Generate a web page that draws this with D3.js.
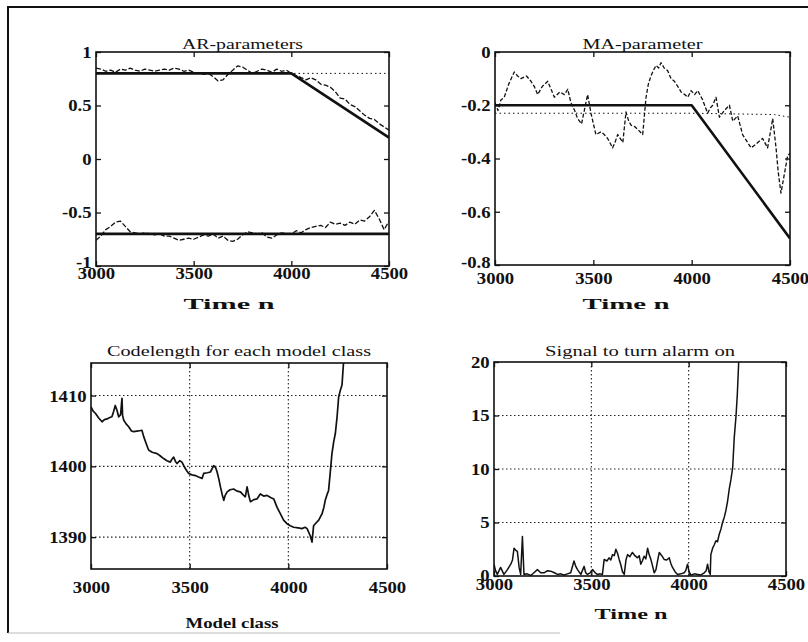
<!DOCTYPE html>
<html>
<head>
<meta charset="utf-8">
<script src="https://cdn.jsdelivr.net/npm/d3@7"></script>
<style>
  body { margin: 0; background: #fff; }
  svg { display: block; }
</style>
</head>
<body>
<div id="grafico"></div>
<script>
// eixo do tempo comum
const xDominio = [3000, 4500];
const xTicks = [3000, 3500, 4000, 4500];

// AR-parameters
const arTime = [
  3000,3025,3050,3075,3100,3125,3150,3175,3200,3225,
  3250,3275,3300,3325,3350,3375,3400,3425,3450,3475,
  3500,3525,3550,3575,3600,3625,3650,3675,3700,3725,
  3750,3775,3800,3825,3850,3875,3900,3925,3950,3975,
  4000,4025,4050,4075,4100,4125,4150,4175,4200,4225,
  4250,4275,4300,4325,4350,4375,4400,4425,4450,4475,
  4500];
const a1Est = [
  0.85,0.84,0.82,0.83,0.81,0.84,0.83,0.85,0.83,0.82,
  0.84,0.83,0.82,0.83,0.84,0.83,0.85,0.84,0.82,0.83,
  0.81,0.80,0.79,0.80,0.77,0.73,0.74,0.79,0.83,0.87,
  0.86,0.83,0.80,0.82,0.84,0.83,0.81,0.84,0.82,0.83,
  0.80,0.78,0.76,0.74,0.76,0.74,0.70,0.69,0.67,0.63,
  0.57,0.56,0.51,0.49,0.45,0.41,0.38,0.37,0.33,0.30,
  0.27];
const a2Est = [
  -0.76,-0.72,-0.66,-0.63,-0.59,-0.58,-0.63,-0.68,-0.69,-0.70,
  -0.69,-0.70,-0.71,-0.70,-0.72,-0.72,-0.74,-0.76,-0.75,-0.74,
  -0.75,-0.73,-0.71,-0.72,-0.70,-0.74,-0.72,-0.76,-0.77,-0.75,
  -0.71,-0.68,-0.69,-0.70,-0.69,-0.73,-0.74,-0.71,-0.69,-0.70,
  -0.70,-0.67,-0.69,-0.66,-0.64,-0.63,-0.62,-0.64,-0.59,-0.61,
  -0.60,-0.62,-0.59,-0.61,-0.57,-0.58,-0.54,-0.48,-0.56,-0.66,
  -0.58];
const arTrueTime = [3000, 4000, 4500];
const a1True = [0.8, 0.8, 0.2];
const a2True = [-0.7, -0.7, -0.7];
const a1Ref = [0.8, 0.8, 0.8];
const arYTicks = [-1, -0.5, 0, 0.5, 1];

// MA-parameter
const maTime = [
  3000,3015,3030,3047,3070,3098,3115,3132,3160,3183,
  3200,3217,3240,3268,3285,3302,3330,3353,3370,3386,
  3405,3420,3440,3454,3471,3488,3513,3539,3555,3573,
  3598,3610,3624,3650,3666,3680,3692,3710,3725,3751,
  3768,3780,3793,3805,3819,3832,3844,3860,3878,3895,
  3912,3930,3946,3965,3980,3997,4015,4031,4056,4081,
  4095,4107,4124,4141,4166,4192,4209,4234,4259,4276,
  4302,4320,4336,4361,4386,4403,4412,4429,4440,4454,
  4471,4488,4500];
const maEst = [
  -0.19,-0.22,-0.18,-0.17,-0.12,-0.075,-0.09,-0.10,-0.09,-0.11,
  -0.13,-0.16,-0.13,-0.11,-0.14,-0.17,-0.15,-0.16,-0.14,-0.19,
  -0.22,-0.25,-0.27,-0.22,-0.16,-0.23,-0.31,-0.30,-0.31,-0.325,
  -0.36,-0.34,-0.31,-0.34,-0.225,-0.26,-0.275,-0.28,-0.29,-0.31,
  -0.17,-0.12,-0.09,-0.07,-0.05,-0.06,-0.04,-0.06,-0.07,-0.10,
  -0.11,-0.13,-0.15,-0.16,-0.17,-0.145,-0.16,-0.145,-0.18,-0.23,
  -0.21,-0.20,-0.17,-0.245,-0.22,-0.20,-0.26,-0.24,-0.31,-0.33,
  -0.36,-0.35,-0.34,-0.325,-0.36,-0.29,-0.25,-0.36,-0.45,-0.53,
  -0.46,-0.39,-0.38];
const maTrueTime = [3000, 4000, 4500];
const maTrue = [-0.2, -0.2, -0.7];
const maRefTime = [3000, 4000, 4420, 4500];
const maRef = [-0.23, -0.23, -0.235, -0.245];
const maYTicks = [-0.8, -0.6, -0.4, -0.2, 0];

// Codelength
const codeTime = [
  3000,3011,3022,3040,3056,3068,3081,3095,3106,3115,
  3123,3132,3140,3150,3157,3160,3166,3178,3191,3205,
  3216,3240,3258,3267,3280,3292,3310,3335,3350,3368,
  3385,3402,3410,3419,3428,3436,3450,3461,3470,3478,
  3487,3495,3512,3529,3545,3563,3571,3590,3605,3622,
  3632,3639,3648,3656,3665,3673,3680,3690,3705,3723,
  3740,3757,3770,3782,3791,3800,3808,3825,3841,3858,
  3875,3892,3910,3926,3943,3960,3976,3993,4010,4027,
  4050,4069,4085,4095,4111,4120,4128,4140,4154,4165,
  4171,4180,4187,4196,4204,4212,4221,4230,4238,4247,
  4255,4264,4272,4280,4290];
const codeValue = [
  1408.4,1407.8,1407.5,1406.8,1406.3,1406.6,1406.7,1406.9,1407.0,1407.8,
  1408.6,1407.9,1407.0,1407.3,1409.6,1407.2,1406.5,1406.0,1405.6,1405.0,
  1404.9,1405.0,1405.1,1404.2,1403.2,1402.3,1402.0,1401.8,1401.5,1401.1,
  1400.8,1400.6,1401.0,1401.3,1400.7,1400.4,1400.8,1400.6,1400.1,1399.7,
  1399.3,1399.0,1398.8,1398.7,1398.5,1398.3,1399.0,1399.1,1399.2,1400.1,
  1399.8,1399.2,1398.2,1397.1,1396.0,1395.2,1395.9,1396.4,1396.7,1396.8,
  1396.5,1396.4,1396.0,1395.7,1397.1,1395.8,1395.0,1395.3,1395.4,1396.1,
  1395.8,1395.9,1395.6,1395.4,1394.2,1393.3,1392.4,1391.9,1391.6,1391.4,
  1391.3,1391.2,1391.4,1391.2,1390.2,1389.3,1391.6,1392.0,1392.4,1393.0,
  1393.3,1394.2,1395.2,1396.0,1396.6,1399.0,1401.8,1403.5,1404.6,1407.0,
  1409.8,1410.8,1411.5,1414.8,1418.0];
const codeYTicks = [1390, 1400, 1410];

// Signal to turn alarm on
const alarmTime = [
  3000,3008,3017,3034,3051,3069,3086,3095,3103,3112,
  3120,3129,3137,3146,3154,3170,3189,3205,3223,3240,
  3257,3275,3291,3310,3326,3343,3360,3377,3394,3411,
  3420,3429,3446,3463,3471,3480,3494,3506,3520,3531,
  3545,3557,3566,3580,3591,3600,3609,3618,3626,3635,
  3643,3652,3660,3669,3678,3686,3698,3711,3724,3737,
  3746,3754,3762,3771,3780,3789,3797,3806,3815,3823,
  3832,3840,3849,3862,3874,3887,3900,3908,3917,3930,
  3943,3960,3977,3985,3994,4002,4011,4030,4046,4063,
  4080,4090,4097,4104,4111,4114,4123,4131,4140,4148,
  4157,4166,4174,4183,4191,4200,4209,4217,4226,4234,
  4243,4250,4257,4268];
const alarmValue = [
  1.1,0.5,0.15,0.8,0.15,0.6,1.1,1.5,2.6,2.4,
  2.3,0.8,0.15,3.7,0.15,0.2,0.05,0.3,0.6,0.3,
  0.3,0.5,0.45,0.3,0.15,0.2,0.1,0.2,0.3,1.4,
  0.9,0.6,0.15,0.9,0.3,0.15,0.3,0.6,0.3,0.15,
  0.2,0.15,1.55,1.4,1.7,1.5,2.0,1.9,2.5,2.1,
  1.55,1.0,0.4,0.15,1.5,2.0,1.8,2.2,1.9,1.7,
  1.9,1.1,1.4,1.85,1.6,2.6,2.0,1.55,0.9,0.3,
  0.6,1.4,2.2,1.9,1.55,1.5,1.7,1.2,0.8,0.4,
  0.15,0.2,0.3,0.5,1.1,0.4,0.1,0.2,0.15,0.1,
  0.3,0.5,1.1,0.4,0.15,2.0,2.6,2.9,3.3,3.2,
  3.9,4.4,5.0,5.5,6.1,7.0,8.2,9.0,10.1,12.9,
  14.9,17.0,20.0,23.0];
const alarmYTicks = [0, 5, 10, 15, 20];

const largura = 808, altura = 642;
const fonte = '"Liberation Serif", "Times New Roman", Times, serif';

const svg = d3.select("#grafico").append("svg")
  .attr("width", largura)
  .attr("height", altura)
  .style("background", "#fff");

// moldura da figura escaneada
svg.append("line").attr("x1", 8).attr("x2", largura).attr("y1", 7).attr("y2", 7)
  .attr("stroke", "#111").attr("stroke-width", 2.2);
svg.append("line").attr("x1", 8).attr("x2", 8).attr("y1", 6).attr("y2", 633)
  .attr("stroke", "#111").attr("stroke-width", 2);
svg.append("line").attr("x1", 8).attr("x2", 560).attr("y1", 633).attr("y2", 633)
  .attr("stroke", "#bbb").attr("stroke-width", 1);

function desenharPainel(p) {
  const g = svg.append("g");
  const x = d3.scaleLinear().domain(xDominio).range([p.caixa.x0, p.caixa.x1]);
  const y = d3.scaleLinear().domain(p.yDominio).range([p.caixa.y1, p.caixa.y0]);

  const clipId = "clip-" + p.id;
  svg.append("clipPath").attr("id", clipId)
    .append("rect")
    .attr("x", p.caixa.x0).attr("y", p.caixa.y0)
    .attr("width", p.caixa.x1 - p.caixa.x0)
    .attr("height", p.caixa.y1 - p.caixa.y0);

  // grade pontilhada
  if (p.grade) {
    g.selectAll(".gx").data(xTicks.slice(1, -1)).enter().append("line")
      .attr("x1", d => x(d)).attr("x2", d => x(d))
      .attr("y1", p.caixa.y0).attr("y2", p.caixa.y1)
      .attr("stroke", "#222").attr("stroke-width", 1.1)
      .attr("stroke-dasharray", "1.5,2.5");
    g.selectAll(".gy").data(p.yTicks.filter(v => y(v) > p.caixa.y0 + 1 && y(v) < p.caixa.y1 - 1))
      .enter().append("line")
      .attr("x1", p.caixa.x0).attr("x2", p.caixa.x1)
      .attr("y1", d => y(d)).attr("y2", d => y(d))
      .attr("stroke", "#222").attr("stroke-width", 1.1)
      .attr("stroke-dasharray", "1.5,2.5");
  }

  // séries
  const area = g.append("g").attr("clip-path", `url(#${clipId})`);
  p.series.forEach(s => {
    const linha = d3.line()
      .x((d, i) => x(s.t[i]))
      .y(d => y(d));
    area.append("path")
      .datum(s.v)
      .attr("d", linha)
      .attr("fill", "none")
      .attr("stroke", "#111")
      .attr("stroke-width", s.largura)
      .attr("stroke-linejoin", "round")
      .attr("stroke-dasharray", s.traco || null);
  });

  // caixa
  g.append("rect")
    .attr("x", p.caixa.x0).attr("y", p.caixa.y0)
    .attr("width", p.caixa.x1 - p.caixa.x0)
    .attr("height", p.caixa.y1 - p.caixa.y0)
    .attr("fill", "none").attr("stroke", "#111").attr("stroke-width", 1.6);

  // eixos com ticks para dentro
  const estiloEixo = sel => {
    sel.select(".domain").remove();
    sel.selectAll(".tick line").attr("stroke", "#111").attr("stroke-width", 1.3);
    sel.selectAll("text")
      .attr("fill", "#111")
      .style("font-family", fonte)
      .style("font-size", "17px")
      .style("font-weight", "bold")
      .attr("transform", "scale(1.1,1)");
  };

  g.append("g").attr("transform", `translate(0,${p.caixa.y1})`)
    .call(d3.axisBottom(x).tickValues(xTicks).tickSizeInner(-5).tickSizeOuter(0)
      .tickPadding(p.padX).tickFormat(d => String(d)))
    .call(estiloEixo);
  g.append("g").attr("transform", `translate(0,${p.caixa.y0})`)
    .call(d3.axisTop(x).tickValues(xTicks).tickSizeInner(-5).tickSizeOuter(0).tickFormat(""))
    .call(estiloEixo);
  const eixoY = g.append("g").attr("transform", `translate(${p.caixa.x0},0)`)
    .call(d3.axisLeft(y).tickValues(p.yTicks).tickSizeInner(-5).tickSizeOuter(0)
      .tickPadding(4).tickFormat(d => String(d)))
    .call(estiloEixo);
  // rótulo mais baixo sobe um pouco, como no original
  eixoY.selectAll(".tick text")
    .filter(d => d === p.yDominio[0])
    .attr("y", -(p.elevarBase || 0));
  g.append("g").attr("transform", `translate(${p.caixa.x1},0)`)
    .call(d3.axisRight(y).tickValues(p.yTicks).tickSizeInner(-5).tickSizeOuter(0).tickFormat(""))
    .call(estiloEixo);

  // título e rótulo do eixo
  g.append("text")
    .attr("x", (p.caixa.x0 + p.caixa.x1) / 2)
    .attr("y", p.tituloY)
    .attr("text-anchor", "middle")
    .attr("textLength", p.tituloLargura)
    .attr("lengthAdjust", "spacingAndGlyphs")
    .style("font-family", fonte)
    .style("font-size", "14px")
    .attr("fill", "#111")
    .text(p.titulo);

  g.append("text")
    .attr("x", p.rotuloX)
    .attr("y", p.rotuloY)
    .attr("text-anchor", "middle")
    .attr("textLength", p.rotuloLargura)
    .attr("lengthAdjust", "spacingAndGlyphs")
    .style("font-family", fonte)
    .style("font-size", "15px")
    .style("font-weight", "bold")
    .attr("fill", "#111")
    .text(p.rotulo);
}

desenharPainel({
  id: "ar",
  caixa: { x0: 96, x1: 389, y0: 52, y1: 266 },
  yDominio: [-1, 1], yTicks: arYTicks, padX: 1, grade: false, elevarBase: 4,
  titulo: "AR-parameters", tituloY: 49, tituloLargura: 121,
  rotulo: "Time n", rotuloX: 229, rotuloY: 309, rotuloLargura: 91,
  series: [
    { t: arTrueTime, v: a1Ref, largura: 1, traco: "1.5,3" },
    { t: arTime, v: a1Est, largura: 1.3, traco: "5,2" },
    { t: arTime, v: a2Est, largura: 1.3, traco: "5,2" },
    { t: arTrueTime, v: a1True, largura: 2.6 },
    { t: arTrueTime, v: a2True, largura: 2.6 }
  ]
});

desenharPainel({
  id: "ma",
  caixa: { x0: 495, x1: 790, y0: 52, y1: 265 },
  yDominio: [-0.8, 0], yTicks: maYTicks, padX: 7, grade: false, elevarBase: 3,
  titulo: "MA-parameter", tituloY: 49, tituloLargura: 120,
  rotulo: "Time n", rotuloX: 626, rotuloY: 309, rotuloLargura: 87,
  series: [
    { t: maRefTime, v: maRef, largura: 1, traco: "1.5,3" },
    { t: maTime, v: maEst, largura: 1.3, traco: "4,2" },
    { t: maTrueTime, v: maTrue, largura: 2.6 }
  ]
});

desenharPainel({
  id: "code",
  caixa: { x0: 91, x1: 387, y0: 363, y1: 569 },
  yDominio: [1385.5, 1414.6], yTicks: codeYTicks, padX: 12, grade: true,
  titulo: "Codelength for each model class", tituloY: 356, tituloLargura: 264,
  rotulo: "Model class", rotuloX: 232, rotuloY: 628, rotuloLargura: 93,
  series: [
    { t: codeTime, v: codeValue, largura: 1.7 }
  ]
});

desenharPainel({
  id: "alarm",
  caixa: { x0: 494, x1: 786, y0: 362, y1: 576 },
  yDominio: [0, 20], yTicks: alarmYTicks, padX: 2, grade: true, elevarBase: 1,
  titulo: "Signal to turn alarm on", tituloY: 356, tituloLargura: 190,
  rotulo: "Time n", rotuloX: 631, rotuloY: 619, rotuloLargura: 73,
  series: [
    { t: alarmTime, v: alarmValue, largura: 1.5 }
  ]
});
</script>
</body>
</html>
